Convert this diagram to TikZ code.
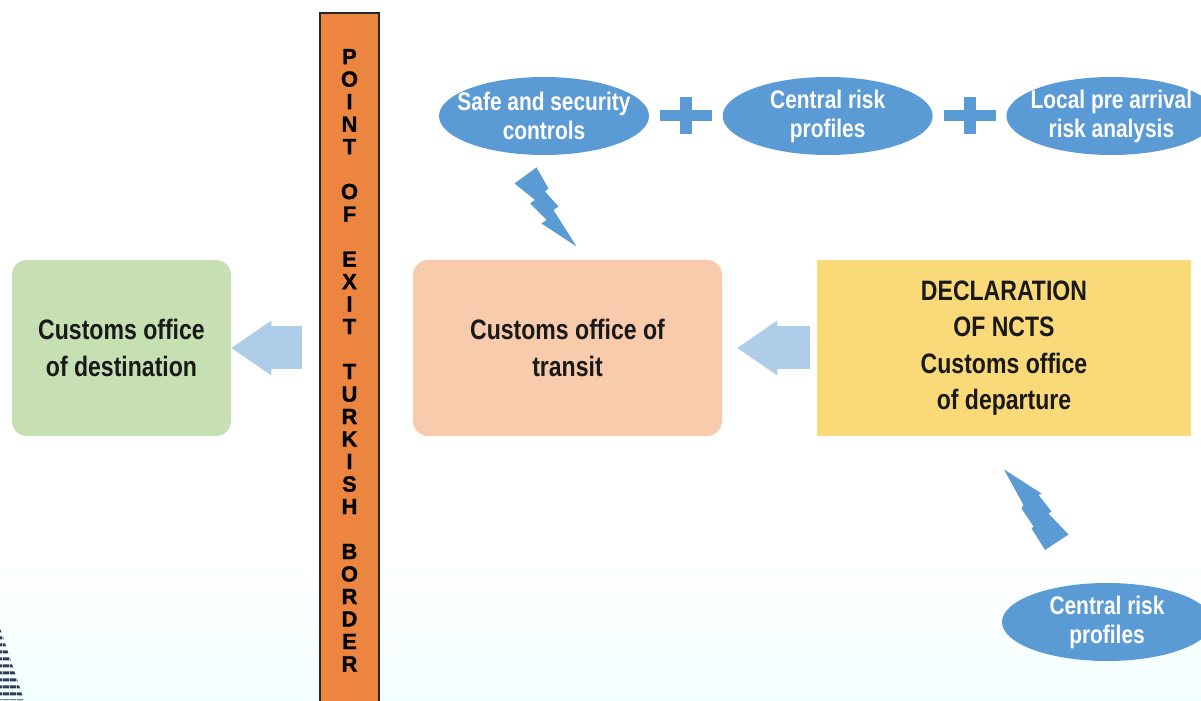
\documentclass[tikz,border=0pt]{standalone}
\usepackage{fontspec}
\setmainfont{Liberation Sans}
\newfontfamily\condfont[FakeStretch=0.82]{Liberation Sans}
\newfontfamily\barfont[FakeBold=1.2]{Liberation Sans}
\usepackage{xcolor}
\usetikzlibrary{shapes.geometric, arrows.meta, positioning, calc, patterns.meta}
\definecolor{riskblue}{HTML}{5B9BD5}
\definecolor{flowblue}{HTML}{AECDE8}
\definecolor{exitorange}{HTML}{EB8540}
\definecolor{destgreen}{HTML}{C6E0B4}
\definecolor{transitpeach}{HTML}{F8CBAD}
\definecolor{departyellow}{HTML}{F9D978}
\definecolor{stripe}{HTML}{2E3B55}
\tikzstyle{office} = [rectangle, rounded corners=0.3cm, minimum width=4.38cm, minimum height=3.52cm, text centered, align=center, text=black!90, font=\condfont\bfseries\fontsize{16}{20.8}\selectfont]
\tikzstyle{borderbar} = [rectangle, draw=black!85, line width=0.9pt, fill=exitorange, minimum width=1.18cm, minimum height=13.9cm, align=center, font=\barfont\bfseries\fontsize{12.5}{12.8}\selectfont]
\tikzstyle{risk} = [ellipse, fill=riskblue, minimum width=4.2cm, minimum height=1.56cm, inner sep=0pt]
\tikzstyle{risktext} = [align=center, text=white, font=\condfont\bfseries\fontsize{14.5}{16.5}\selectfont]
\tikzstyle{flow} = [line width=0.86cm, draw=flowblue, -{Triangle[length=0.8cm, width=1.1cm, line width=0pt]}]
\tikzstyle{bolt} = [fill=riskblue]

\begin{document}
\begin{tikzpicture}
\useasboundingbox (0,0) rectangle (24.02,14);

% Background
\shade[top color=white, bottom color=cyan!5] (0,0) rectangle (24.02,2.8);
\fill[pattern={Lines[angle=0, distance=0.14cm, line width=0.07cm]}, pattern color=stripe] (0,0) -- (0.48,0) -- (0,1.44) -- cycle;

% Offices
\node (destination) [office, fill=destgreen] at (2.43,7.04) {Customs office\\of destination};
\node (border) [borderbar, anchor=north] at (6.99,13.76) {P\\O\\I\\N\\T\\~\\O\\F\\~\\E\\X\\I\\T\\~\\T\\U\\R\\K\\I\\S\\H\\~\\B\\O\\R\\D\\E\\R};
\node (transit) [office, fill=transitpeach, minimum width=6.18cm] at (11.35,7.04) {Customs office of\\transit};
\node (departure) [office, fill=departyellow, sharp corners, minimum width=7.48cm] at (20.08,7.04) {DECLARATION\\OF NCTS\\Customs office\\of departure};

% Risk checks
\node (safe) [risk, label={[risktext]center:Safe and security\\controls}] at (10.88,11.68) {};
\node (central) [risk, right=1.46cm of safe, label={[risktext]center:Central risk\\profiles}] {};
\node (local) [risk, right=1.46cm of central, label={[risktext]center:Local pre arrival\\risk analysis}] {};
\node (centralB) [risk, label={[risktext]center:Central risk\\profiles}] at (22.14,1.56) {};

% Plus signs
\coordinate (plusA) at ($(safe.east)!0.5!(central.west)$);
\coordinate (plusB) at ($(central.east)!0.5!(local.west)$);
\fill[riskblue] (plusA) ++(-0.52,-0.11) rectangle ++(1.04,0.22);
\fill[riskblue] (plusA) ++(-0.12,-0.37) rectangle ++(0.24,0.74);
\fill[riskblue] (plusB) ++(-0.52,-0.11) rectangle ++(1.04,0.22);
\fill[riskblue] (plusB) ++(-0.12,-0.37) rectangle ++(0.24,0.74);

% Lightning
\fill[bolt] (10.29,10.33) -- (10.73,10.65) -- (10.97,10.23) -- (10.90,10.17) -- (11.17,9.87) -- (11.07,9.80) -- (11.53,9.07) -- (10.83,9.53) -- (10.93,9.60) -- (10.60,9.93) -- (10.70,10.00) -- cycle;
\fill[bolt] (20.08,4.61) -- (20.83,4.13) -- (20.77,4.10) -- (21.03,3.77) -- (20.97,3.73) -- (21.37,3.31) -- (20.90,3.00) -- (20.63,3.43) -- (20.67,3.47) -- (20.43,3.83) -- (20.47,3.90) -- cycle;

% Arrows
\draw [flow, shorten <=0.34cm] (border.west |- destination.east) -- (destination.east);
\draw [flow, shorten <=0.14cm, shorten >=0.3cm] (departure.west) -- (transit.east);

\end{tikzpicture}
\end{document}
